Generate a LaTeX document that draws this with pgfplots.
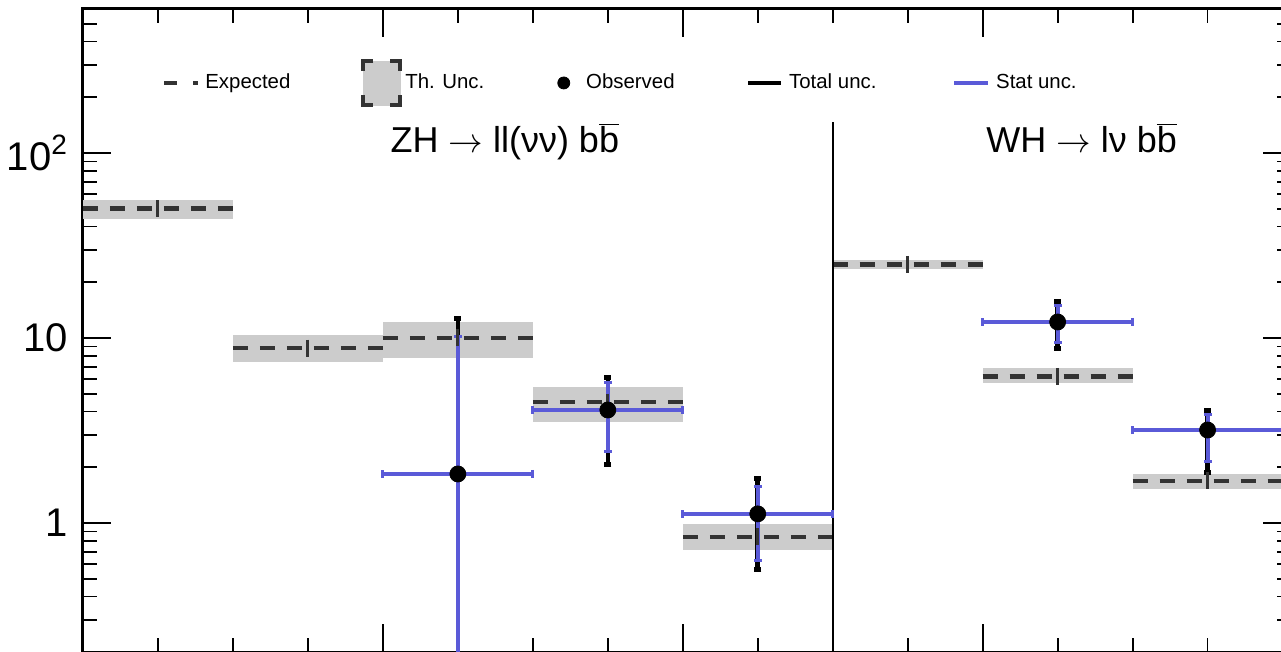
\documentclass[border=0pt]{standalone}
\usepackage{pgfplots}
\pgfplotsset{compat=1.18}
\usepackage{fontspec}
\setmainfont{Liberation Sans}

\definecolor{expgray}{HTML}{333333}
\definecolor{thgray}{HTML}{CCCCCC}
\definecolor{statblue}{HTML}{5A5AD8}

% bin centre, observed, stat -, stat +, total -, total +
\pgfplotstableread{
x   obs   sm    sp    tm    tp
2.5 1.84  1.83  8.36  1.83  10.86
3.5 4.08  1.66  1.70  2.02  2.07
4.5 1.12  0.49  0.45  0.56  0.63
6.5 12.2  2.70  2.70  3.40  3.50
7.5 3.18  1.02  0.66  1.31  0.85
}\obs

\begin{document}
\begin{tikzpicture}
\begin{axis}[
    scale only axis,
    width=603.75pt, height=321.65pt,
    xmin=0, xmax=8.053,
    ymode=log, ymin=0.2, ymax=600,
    axis line style={line width=1.5pt},
    xtick={0,2,4,6,8}, xticklabels={},
    minor xtick={0.5,1,1.5,2.5,3,3.5,4.5,5,5.5,6.5,7,7.5},
    ytick={1,10,100}, yticklabels={1,10,10\textsuperscript{2}},
    minor ytick={0.2,0.3,0.4,0.5,0.6,0.7,0.8,0.9,2,3,4,5,6,7,8,9,20,30,40,50,60,70,80,90,200,300,400,500},
    tick align=inside,
    major tick length=14pt, minor tick length=7pt,
    every tick/.style={black, line width=0.9pt},
    yticklabel style={font=\fontsize{20}{20}\selectfont, xshift=-4pt},
    legend columns=5,
    legend cell align=left,
    legend style={at={(rel axis cs:0.0654,0.885)}, anchor=west,
        draw=none, fill=none, inner sep=0pt, column sep=0pt,
        font=\fontsize{10.2}{12}\selectfont, nodes={inner sep=0pt}},
]
% theory uncertainty boxes
\addplot[fill=thgray, draw=none, forget plot] coordinates {(0,44)(1,44)(1,56)(0,56)} -- cycle;
\addplot[fill=thgray, draw=none, forget plot] coordinates {(1,7.4)(2,7.4)(2,10.4)(1,10.4)} -- cycle;
\addplot[fill=thgray, draw=none, forget plot] coordinates {(2,7.8)(3,7.8)(3,12.2)(2,12.2)} -- cycle;
\addplot[fill=thgray, draw=none, forget plot] coordinates {(3,3.5)(4,3.5)(4,5.4)(3,5.4)} -- cycle;
\addplot[fill=thgray, draw=none, forget plot] coordinates {(4,0.71)(5,0.71)(5,0.99)(4,0.99)} -- cycle;
\addplot[fill=thgray, draw=none, forget plot] coordinates {(5,23.5)(6,23.5)(6,26.5)(5,26.5)} -- cycle;
\addplot[fill=thgray, draw=none, forget plot] coordinates {(6,5.7)(7,5.7)(7,6.9)(6,6.9)} -- cycle;
\addplot[fill=thgray, draw=none, forget plot] coordinates {(7,1.53)(8.053,1.53)(8.053,1.84)(7,1.84)} -- cycle;

% expected
\addplot[expgray, line width=2.2pt, dash pattern=on 7.5pt off 6pt, unbounded coords=jump, forget plot]
  coordinates {(0,50)(1,50) (1,nan) (1,8.8)(2,8.8) (2,nan) (2,10)(3,10) (3,nan) (3,4.5)(4,4.5)
               (4,nan) (4,0.84)(5,0.84) (5,nan) (5,25)(6,25) (6,nan) (6,6.2)(7,6.2) (7,nan) (7,1.69)(8.053,1.69)};
\addplot[expgray, only marks, mark=|, mark size=4.25pt, mark options={line width=1.5pt}, forget plot]
  coordinates {(0.5,50)(1.5,8.8)(2.5,10)(3.5,4.5)(4.5,0.84)(5.5,25)(6.5,6.2)(7.5,1.69)};

% separator
\addplot[black, line width=1pt, forget plot] coordinates {(5,0.2)(5,147)};

% total uncertainty
\addplot[only marks, mark=*, mark size=0.01pt, forget plot,
  error bars/.cd, y dir=both, y explicit,
  error bar style={black, line width=2.3pt},
  error mark=|, error mark options={black, line width=2.5pt, mark size=1.75pt}]
  table[x=x, y=obs, y error plus=tp, y error minus=tm] {\obs};
% stat uncertainty
\addplot[only marks, mark=*, mark size=0.01pt, forget plot,
  error bars/.cd, y dir=both, y explicit, x dir=both, x fixed=0.5,
  error bar style={statblue, line width=2pt},
  error mark=|, error mark options={statblue, line width=1.5pt, mark size=2pt}]
  table[x=x, y=obs, y error plus=sp, y error minus=sm] {\obs};
% observed
\addplot[black, only marks, mark=*, mark size=4pt, forget plot] table[x=x, y=obs] {\obs};

\node[anchor=base, font=\fontsize{18}{18}\selectfont] at (axis cs:2.813,100) {ZH \(\rightarrow\) ll(νν) b\(\overline{\mbox{b}}\)};
\node[anchor=base, font=\fontsize{18}{18}\selectfont] at (axis cs:6.66,100) {WH \(\rightarrow\) lν b\(\overline{\mbox{b}}\)};

% legend
\addlegendimage{legend image code/.code={
  \path[draw=none, fill=none] (0pt,-11pt) rectangle (20.5pt,11pt);
  \draw[expgray, line width=2pt] (0pt,0pt) -- (6.5pt,0pt) (14.5pt,0pt) -- (17pt,0pt);}}
\addlegendentry{\makebox[78pt][l]{Expected}}
\addlegendimage{legend image code/.code={
  \path[draw=none, fill=none] (0pt,-11pt) rectangle (21pt,11pt);
  \fill[thgray] (0pt,-11pt) rectangle (18.5pt,11pt);
  \draw[expgray, line width=2pt] (0pt,-6pt) -- (0pt,-11pt) -- (5pt,-11pt) (13.5pt,-11pt) -- (18.5pt,-11pt) -- (18.5pt,-6pt)
     (18.5pt,6pt) -- (18.5pt,11pt) -- (13.5pt,11pt) (5pt,11pt) -- (0pt,11pt) -- (0pt,6pt);}}
\addlegendentry{\makebox[76pt][l]{Th. Unc.}}
\addlegendimage{legend image code/.code={
  \path[draw=none, fill=none] (0pt,-11pt) rectangle (14pt,11pt);
  \fill[black] (2.8pt,0pt) circle (3pt);}}
\addlegendentry{\makebox[80pt][l]{Observed}}
\addlegendimage{legend image code/.code={
  \path[draw=none, fill=none] (0pt,-11pt) rectangle (20.5pt,11pt);
  \draw[black, line width=2pt] (0pt,0pt) -- (16.5pt,0pt);}}
\addlegendentry{\makebox[81.5pt][l]{Total unc.}}
\addlegendimage{legend image code/.code={
  \path[draw=none, fill=none] (0pt,-11pt) rectangle (21pt,11pt);
  \draw[statblue, line width=2pt] (0pt,0pt) -- (17pt,0pt);}}
\addlegendentry{Stat unc.}
\end{axis}
\pgfresetboundingbox
\path[use as bounding box] (-41.5pt,0.15pt) rectangle (599pt,326.15pt);
\end{tikzpicture}
\end{document}
